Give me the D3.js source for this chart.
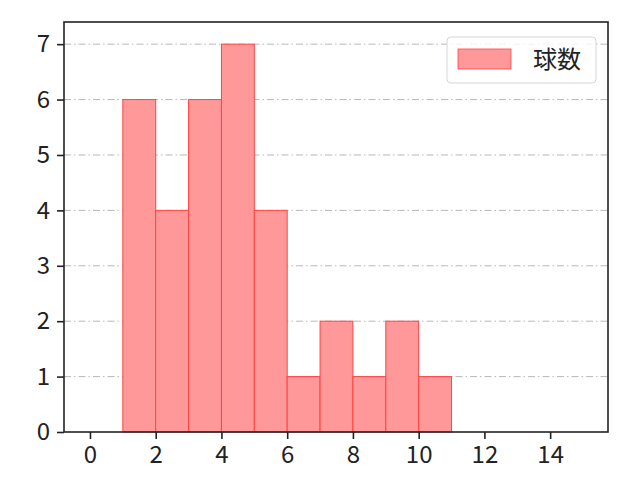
<!DOCTYPE html>
<html>
<head>
<meta charset="utf-8">
<script src="https://cdn.jsdelivr.net/npm/d3@7"></script>
<style>
  body { margin: 0; background: #fff; }
  svg { font-family: "Noto Sans CJK JP", "DejaVu Sans", sans-serif; }
</style>
</head>
<body>
<svg id="chart" width="640" height="480"></svg>
<script>
// histogram bins (left edges) and counts
const binStarts = [1, 2, 3, 4, 5, 6, 7, 8, 9, 10]
const counts = [6, 4, 6, 7, 4, 1, 2, 1, 2, 1]
const xTicks = [0, 2, 4, 6, 8, 10, 12, 14]
const yTicks = [0, 1, 2, 3, 4, 5, 6, 7]
const seriesName = '球数'

const margin = { top: 22, right: 32, bottom: 48, left: 64 }
const width = 640 - margin.left - margin.right
const height = 480 - margin.top - margin.bottom

const svg = d3.select('#chart')
const g = svg.append('g').attr('transform', `translate(${margin.left},${margin.top})`)

const x = d3.scaleLinear().domain([-0.79, 15.76]).range([0, width])
const y = d3.scaleLinear().domain([0, 7.4]).range([height, 0])

// grid
g.selectAll('.grid')
  .data(yTicks.filter(d => d > 0))
  .join('line')
  .attr('class', 'grid')
  .attr('x1', 0).attr('x2', width)
  .attr('y1', d => y(d)).attr('y2', d => y(d))
  .attr('stroke', '#b0b0b0')
  .attr('stroke-width', 0.9)
  .attr('stroke-dasharray', '7,3,1.5,3')

// bars
g.selectAll('.bar')
  .data(binStarts)
  .join('rect')
  .attr('class', 'bar')
  .attr('x', d => x(d))
  .attr('y', (d, i) => y(counts[i]))
  .attr('width', d => x(d + 1) - x(d))
  .attr('height', (d, i) => height - y(counts[i]))
  .attr('fill', '#ff9999')
  .attr('stroke', '#ff4444')
  .attr('stroke-width', 1)

// axes
const xAxis = d3.axisBottom(x).tickValues(xTicks).tickSize(7).tickPadding(7)
const yAxis = d3.axisLeft(y).tickValues(yTicks).tickSize(7).tickPadding(7)

const xg = g.append('g').attr('transform', `translate(0,${height})`).call(xAxis)
const yg = g.append('g').call(yAxis)
;[xg, yg].forEach(a => {
  a.select('.domain').remove()
  a.selectAll('.tick line').attr('stroke', '#222').attr('stroke-width', 1.6)
  a.selectAll('.tick text').attr('fill', '#222').style('font-size', '24px')
    .style('font-family', '"Noto Sans CJK JP", "DejaVu Sans", sans-serif')
})

// frame
g.append('rect')
  .attr('width', width).attr('height', height)
  .attr('fill', 'none').attr('stroke', '#222').attr('stroke-width', 1.6)

// legend
const leg = g.append('g').attr('transform', `translate(${width - 161},${15})`)
leg.append('rect')
  .attr('width', 149).attr('height', 46).attr('rx', 4)
  .attr('fill', '#fff').attr('fill-opacity', 0.8)
  .attr('stroke', '#d6d6d6')
leg.append('rect')
  .attr('x', 11).attr('y', 12).attr('width', 53).attr('height', 20)
  .attr('fill', '#ff9999').attr('stroke', '#ff4444').attr('stroke-width', 0.8)
leg.append('text')
  .attr('x', 86).attr('y', 23).attr('dy', '0.35em')
  .attr('fill', '#222').style('font-size', '24px')
  .text(seriesName)
</script>
</body>
</html>
